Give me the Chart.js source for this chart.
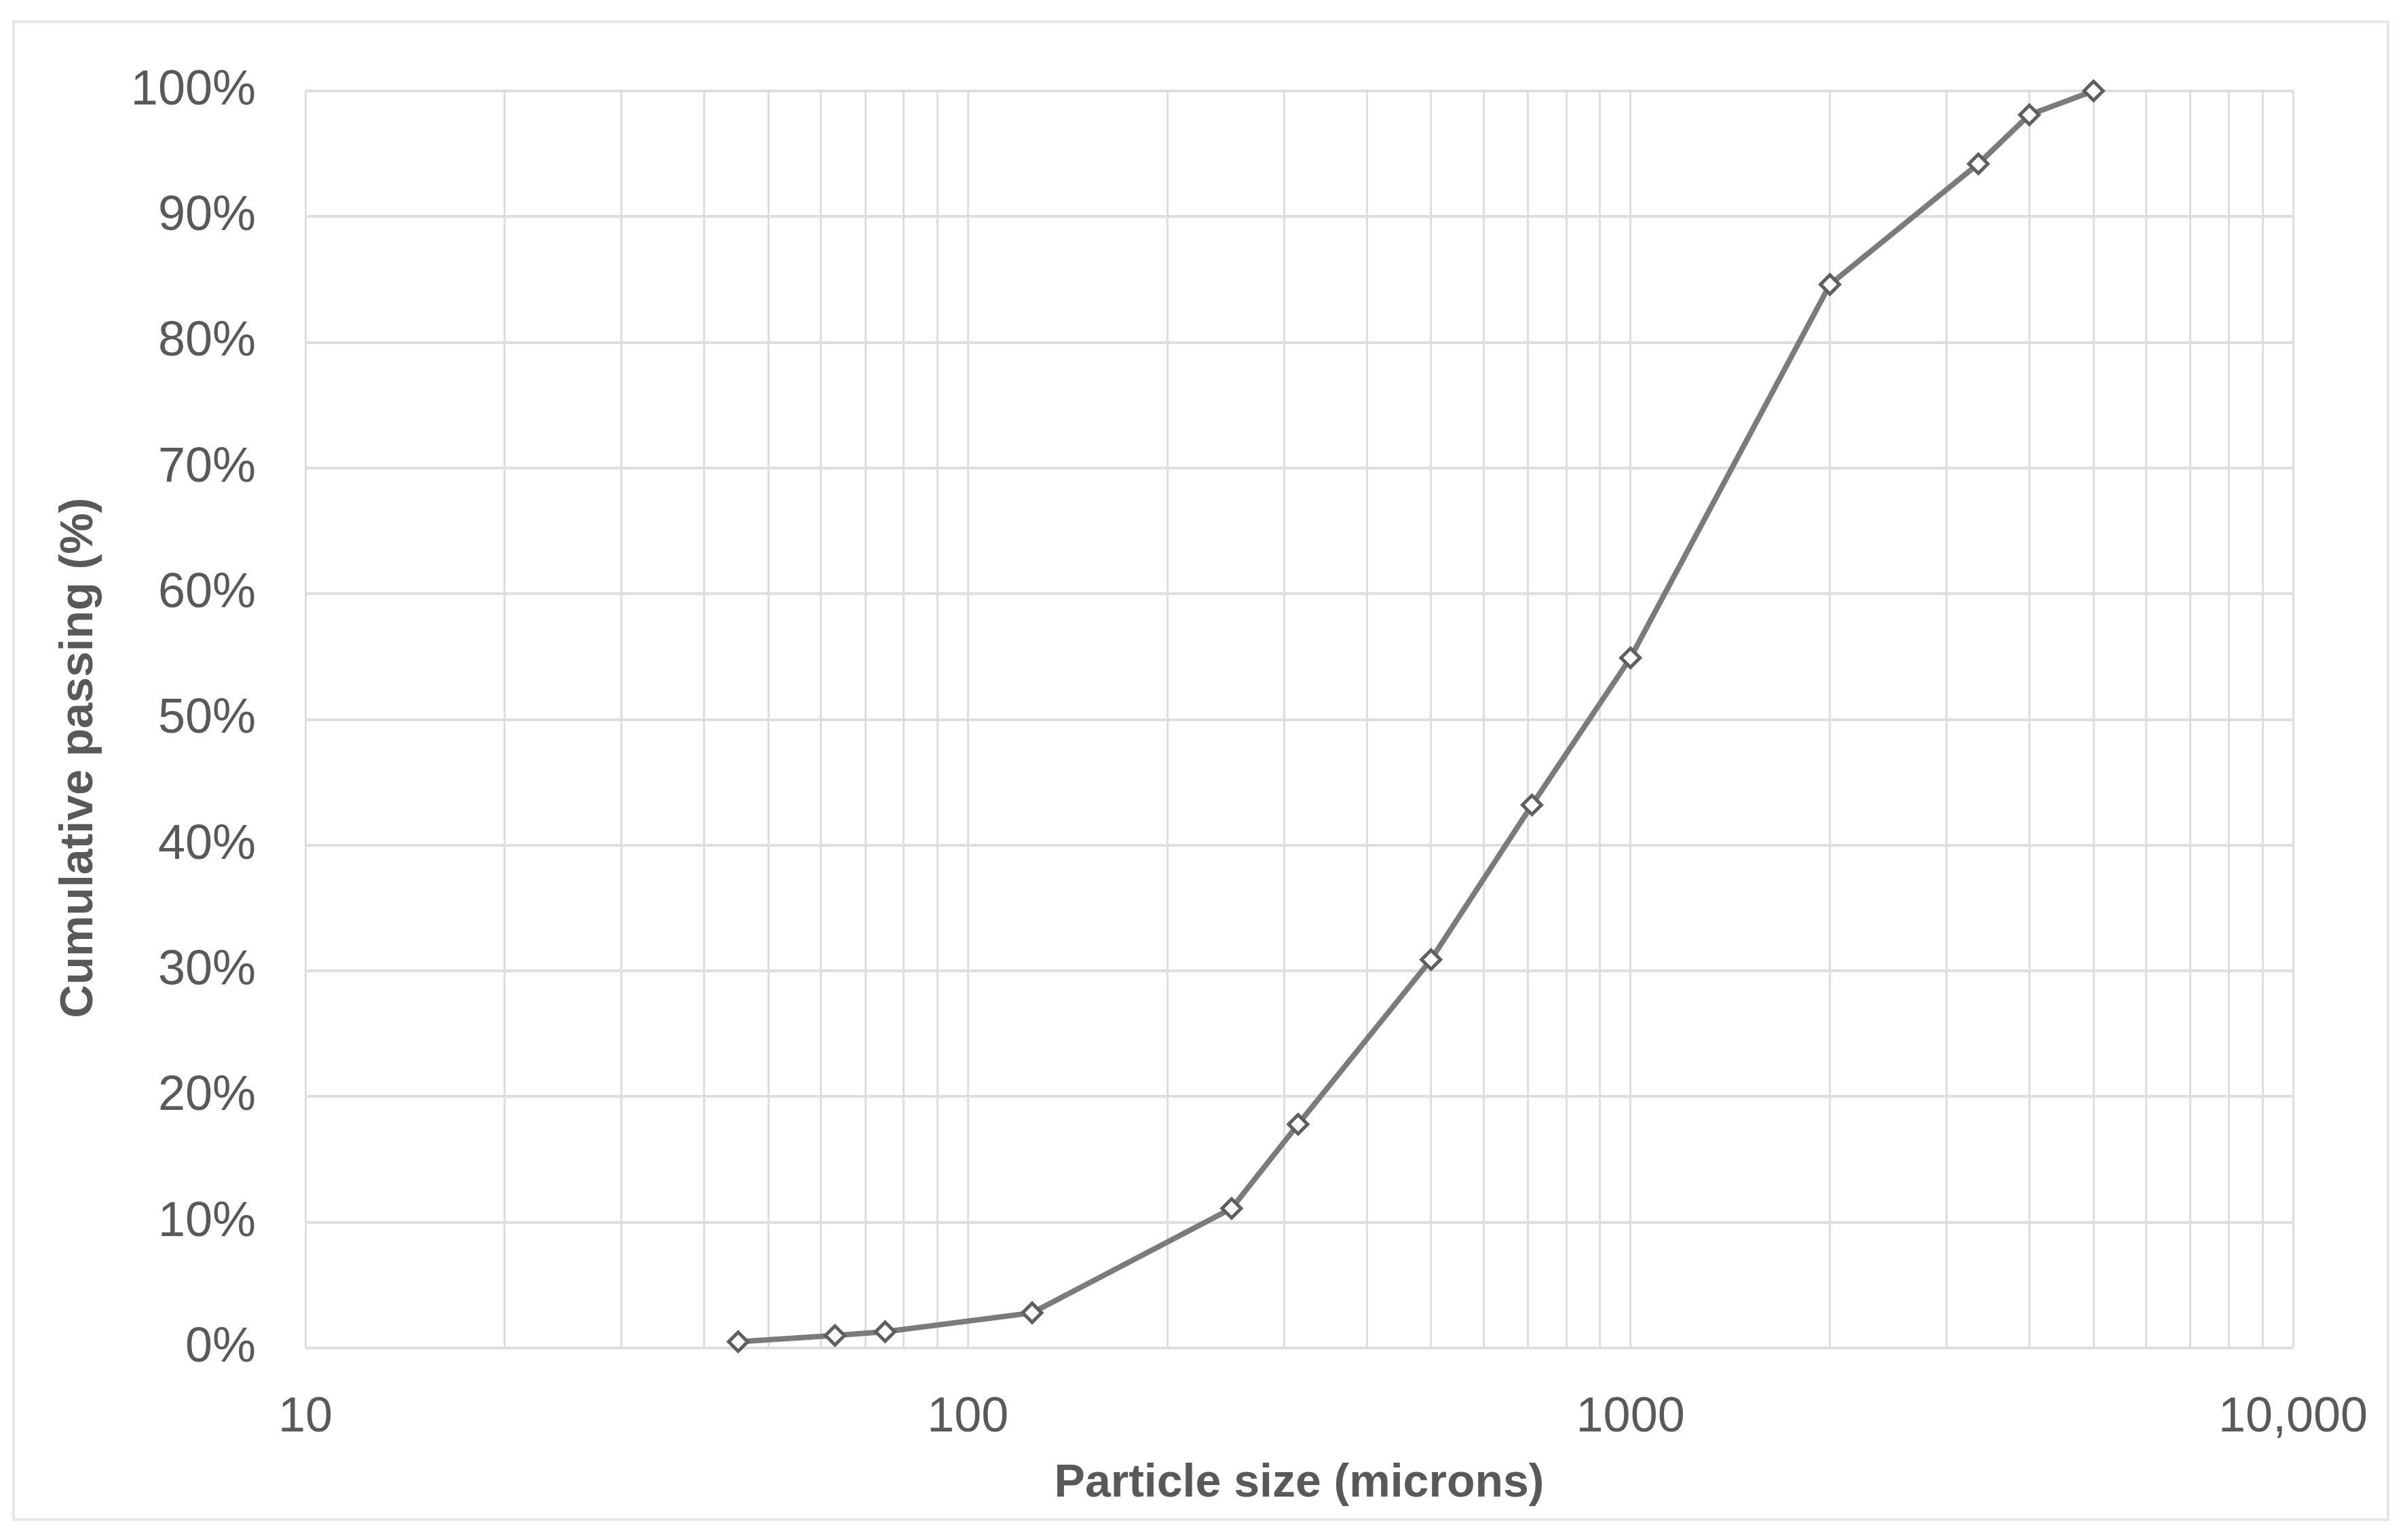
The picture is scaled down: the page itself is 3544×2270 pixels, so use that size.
<!DOCTYPE html>
<html>
<head>
<meta charset="utf-8">
<script src="https://cdn.jsdelivr.net/npm/chart.js@4/dist/chart.umd.min.js"></script>
<style>
  html, body { margin: 0; padding: 0; background: #ffffff; }
  canvas { display: block; }
</style>
</head>
<body>
<canvas id="c" width="3544" height="2270"></canvas>
<script>
// ---- data ----
const particleSizes = [45, 63, 75, 125, 250, 315, 500, 710, 1000, 2000, 3350, 4000, 5000];
const cumulativePassing = [0.5, 1.0, 1.3, 2.8, 11.1, 17.8, 30.9, 43.2, 54.9, 84.6, 94.2, 98.1, 100];
const xGridValues = [10,20,30,40,50,60,70,80,90,100,200,300,400,500,600,700,800,900,1000,2000,3000,4000,5000,6000,7000,8000,9000,10000];
const xLabelValues = [10, 100, 1000, 10000];
const xLabelTexts = ["10", "100", "1000", "10,000"];
const yTickValues = [0, 10, 20, 30, 40, 50, 60, 70, 80, 90, 100];
const xTitle = "Particle size (microns)";
const yTitle = "Cumulative passing (%)";

const points = particleSizes.map((s, i) => ({ x: s, y: cumulativePassing[i] }));

const TEXT = '#595959';
const GRID = '#dedede';
const FONT = "'Liberation Sans', Arial, sans-serif";

const frame = {
  id: 'frame',
  beforeDraw(chart) {
    const ctx = chart.ctx;
    ctx.save();
    ctx.fillStyle = '#ffffff';
    ctx.fillRect(0, 0, chart.width, chart.height);
    ctx.strokeStyle = '#e6e6e6';
    ctx.lineWidth = 4;
    ctx.strokeRect(20, 32, 3499, 2208);
    ctx.restore();
  }
};

Chart.defaults.color = TEXT;
Chart.defaults.font.family = FONT;

new Chart(document.getElementById('c'), {
  type: 'line',
  data: {
    datasets: [{
      data: points,
      borderColor: '#7b7b7b',
      borderWidth: 8,
      pointStyle: 'rectRot',
      pointRadius: 14,
      pointHoverRadius: 14,
      pointBackgroundColor: '#ffffff',
      pointBorderColor: '#5f5f5f',
      pointBorderWidth: 5,
      tension: 0,
      fill: false,
      clip: false
    }]
  },
  options: {
    responsive: false,
    animation: false,
    devicePixelRatio: 1,
    layout: { padding: { left: 40, top: 134, right: 165, bottom: 40 } },
    plugins: {
      legend: { display: false },
      tooltip: { enabled: false },
      title: { display: false }
    },
    scales: {
      x: {
        type: 'logarithmic',
        min: 10,
        max: 10000,
        afterBuildTicks(scale) {
          scale.ticks = xGridValues.map(v => ({ value: v }));
        },
        afterFit(scale) {
          scale.height = 243;
          scale.paddingLeft = 0;
          scale.paddingRight = 0;
        },
        ticks: {
          autoSkip: false,
          maxRotation: 0,
          padding: 60,
          color: TEXT,
          font: { size: 72, family: FONT },
          callback(value) {
            const i = xLabelValues.indexOf(value);
            return i >= 0 ? xLabelTexts[i] : '';
          }
        },
        grid: { color: GRID, lineWidth: 3, drawTicks: false },
        border: { display: false },
        title: {
          display: true,
          text: xTitle,
          color: TEXT,
          font: { size: 68, weight: 'bold', family: FONT },
          padding: { top: 0, bottom: 2 }
        }
      },
      y: {
        type: 'linear',
        min: 0,
        max: 100,
        afterBuildTicks(scale) {
          scale.ticks = yTickValues.map(v => ({ value: v }));
        },
        afterFit(scale) {
          scale.width = 410;
          scale.paddingTop = 0;
          scale.paddingBottom = 0;
        },
        ticks: {
          padding: 73,
          color: TEXT,
          font: { size: 72, family: FONT },
          callback(value) { return value + '%'; }
        },
        grid: { color: GRID, lineWidth: 4, drawTicks: false },
        border: { display: false },
        title: {
          display: true,
          text: yTitle + '      ',
          color: TEXT,
          font: { size: 68, weight: 'bold', family: FONT },
          padding: { top: 36, bottom: 0 }
        }
      }
    }
  },
  plugins: [frame]
});
</script>
</body>
</html>
